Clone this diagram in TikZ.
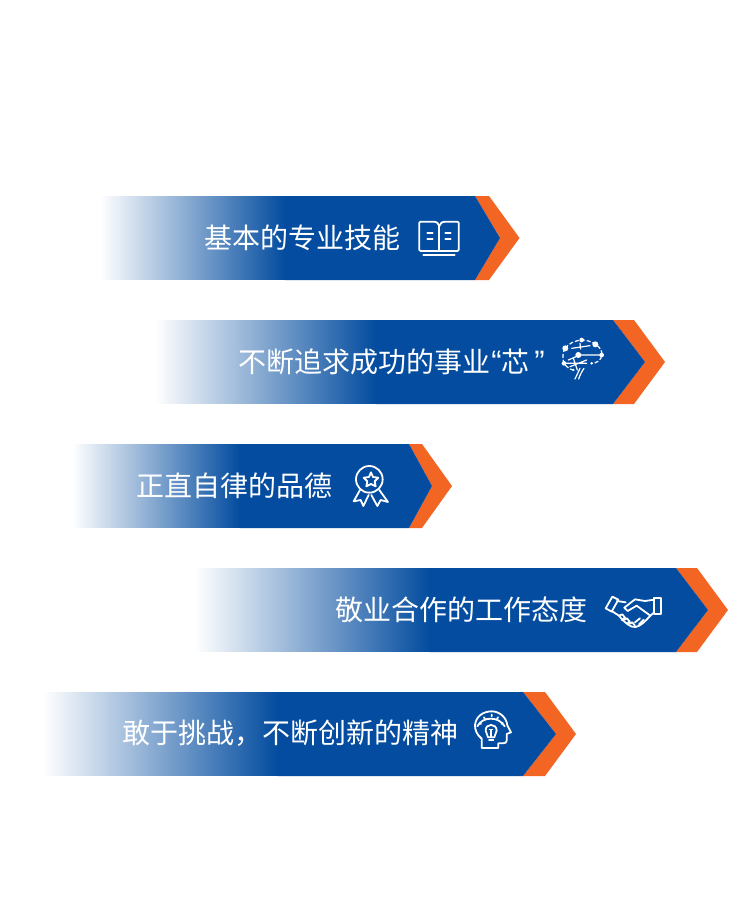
\documentclass[tikz,border=0pt]{standalone}
\usepackage{fontspec}
\newfontfamily\cjk{Noto Sans CJK SC}
\newfontfamily\quotefont{Liberation Sans}
\definecolor{bannerblue}{HTML}{034C9F}
\definecolor{chevorange}{HTML}{F36523}
\tikzset{
  bannerlabel/.style={text=white,font=\cjk\fontsize{28}{30}\selectfont,inner sep=0pt,anchor=west},
  icon/.style={draw=white,line width=1.8pt,line join=round,line cap=round,fill=none},
  iconthin/.style={draw=white,line width=1.2pt,line cap=round},
  icondash/.style={draw=white,line width=1.2pt,dash pattern=on 4pt off 2pt},
  iconfill/.style={fill=white,draw=none}
}
% #1 fade start, #2 fade end, #3 top of chevron, #4 orange outer top, #5 notch, #6 tip, #7 y top
\newcommand{\banner}[7]{%
  \shade[left color=white,right color=bannerblue,shading=axis] (#1,#7) rectangle (#2,#7+84);
  \fill[white] (#1-3,#7+84) rectangle (#2+3,#7+87);
  \fill[white] (#1-3,#7-3) rectangle (#2+3,#7);
  \fill[chevorange] (#3,#7) -- (#4,#7) -- (#6,#7+42) -- (#4,#7+84) -- (#3,#7+84) -- (#5,#7+42) -- cycle;
  \fill[bannerblue] (#2-0.5,#7) -- (#3,#7) -- (#5,#7+42) -- (#3,#7+84) -- (#2-0.5,#7+84) -- cycle;
}
\begin{document}
\begin{tikzpicture}[x=1pt,y=-1pt]
\useasboundingbox (0,0) rectangle (747,911);
\fill[white] (0,0) rectangle (747,911);
\banner{100}{285}{475}{489}{500}{519.5}{196}
\banner{155}{376}{613}{634}{645}{665}{320}
\banner{72}{240}{409}{422}{432}{452}{444}
\banner{195}{430}{676}{697}{708}{728}{568}
\banner{43}{278}{523}{545}{556}{576}{692}

\node[bannerlabel] (t1) at (204,237.5) {基本的专业技能};
\node[bannerlabel] (t2) at (238.5,361.5) {不断追求成功的事业\makebox[11pt][r]{\quotefont\fontsize{31}{31}\selectfont “}芯\makebox[15pt][r]{\quotefont\fontsize{31}{31}\selectfont ”}};
\node[bannerlabel] (t3) at (136.5,485.5) {正直自律的品德};
\node[bannerlabel] (t4) at (335.5,609.5) {敬业合作的工作态度};
\node[bannerlabel] (t5) at (122.5,733.5) {敢于挑战，不断创新的精神};

% book
\begin{scope}[shift={(400,190)},x=0.3333pt,y=-0.3333pt]
\draw[icon] (118,183) -- (62,183) -- (58,180) -- (58,98) -- (62,95) -- (100,95) .. controls (110,95) and (116,100) .. (118,108) .. controls (120,100) and (126,95) .. (136,95) -- (172,95) -- (176,98) -- (176,180) -- (172,183) -- cycle;
\draw[icon] (118,108) -- (118,183);
\draw[icon] (82,130) -- (98,130) (82,146) -- (98,146) (136,130) -- (152,130) (136,146) -- (152,146);
\draw[icon] (70,195) -- (164,195);
\end{scope}

% brain
\begin{scope}[shift={(540,315)},x=0.3333pt,y=-0.3333pt]
\draw[icondash] (76,100) .. controls (85,85) and (105,77) .. (125,75) .. controls (140,75) and (155,80) .. (166,88) .. controls (180,95) and (188,110) .. (185,120) .. controls (185,135) and (170,145) .. (155,145);
\draw[icondash] (76,100) .. controls (68,110) and (66,130) .. (72,145) .. controls (78,155) and (90,163) .. (100,165);
\draw[iconthin] (95,100) -- (150,92) (120,85) -- (122,102) (115,120) -- (185,120) (72,145) -- (140,145) (85,135) -- (108,125) (100,130) -- (112,165) (90,155) -- (140,135);
\draw[iconthin] (120,160) -- (105,192) (132,160) .. controls (125,170) and (120,180) .. (116,192);
\fill[iconfill] (76,100) circle[radius=9];
\fill[iconfill] (125,75) circle[radius=7];
\fill[iconfill] (166,88) circle[radius=9];
\fill[iconfill] (115,120) circle[radius=9];
\fill[iconfill] (185,120) circle[radius=7];
\fill[iconfill] (72,145) circle[radius=7];
\fill[iconfill] (155,145) circle[radius=4];
\fill[iconfill] (100,165) circle[radius=3.5];
\end{scope}

% medal
\begin{scope}[shift={(340,440)},x=0.3333pt,y=-0.3333pt]
\draw[icon] (88,118) circle[radius=40];
\draw[icon] (93,97) -- (99,111) -- (115,113) -- (104,124) -- (107,139) -- (93,132) -- (79,139) -- (82,124) -- (71,113) -- (87,111) -- cycle;
\draw[icon] (60,150) -- (41,184) -- (62,180) -- (70,198) -- (86,165);
\draw[icon] (118,150) -- (144,186) -- (122,180) -- (112,198) -- (94,165);
\end{scope}

% handshake
\begin{scope}[shift={(595,565)},x=0.3333pt,y=-0.3333pt]
\draw[icon] (52,95) -- (70,104) -- (50,140) -- (32,130) -- cycle;
\draw[icon] (178,100) -- (198,100) -- (198,146) -- (178,146) -- cycle;
\draw[icon] (178,104) -- (150,108) -- (120,103) -- (88,128) -- (98,138) -- (125,122) -- (166,152) -- (178,142);
\draw[icon] (66,108) -- (92,112);
\draw[icon] (50,138) -- (72,152) .. controls (85,170) and (110,190) .. (122,186) .. controls (135,184) and (150,170) .. (166,152);
\draw[icon] (72,152) -- (82,148) -- (90,158) -- (80,165) (88,164) -- (96,160) -- (104,170) -- (96,176) (104,176) -- (112,172) -- (120,182) (120,172) -- (135,160) (132,178) -- (146,164);
\end{scope}

% head with bulb
\begin{scope}[shift={(460,688)},x=0.3333pt,y=-0.3333pt]
\draw[icon] (65,180) -- (65,152) .. controls (50,140) and (45,125) .. (45,112) .. controls (47,85) and (70,70) .. (95,70) .. controls (120,70) and (140,90) .. (142,112) -- (153,133) -- (140,138) -- (140,158) .. controls (140,163) and (136,166) .. (130,166) -- (115,166) -- (115,180) -- cycle;
\draw[icon] (52,115) .. controls (60,100) and (75,92) .. (92,92) .. controls (110,92) and (125,100) .. (134,115);
\draw[icon] (84,148) .. controls (84,140) and (78,138) .. (77,128) .. controls (76,105) and (110,105) .. (110,128) .. controls (109,138) and (103,140) .. (103,148) -- cycle;
\draw[icon] (87,155) -- (100,155);
\draw[iconthin] (93,148) -- (93,127) (88,125) -- (98,125);
\draw[icon] (60,104) -- (63,108) (72,88) -- (75,93) (95,80) -- (95,85) (114,88) -- (111,93) (128,104) -- (125,108);
\end{scope}
\end{tikzpicture}
\end{document}
